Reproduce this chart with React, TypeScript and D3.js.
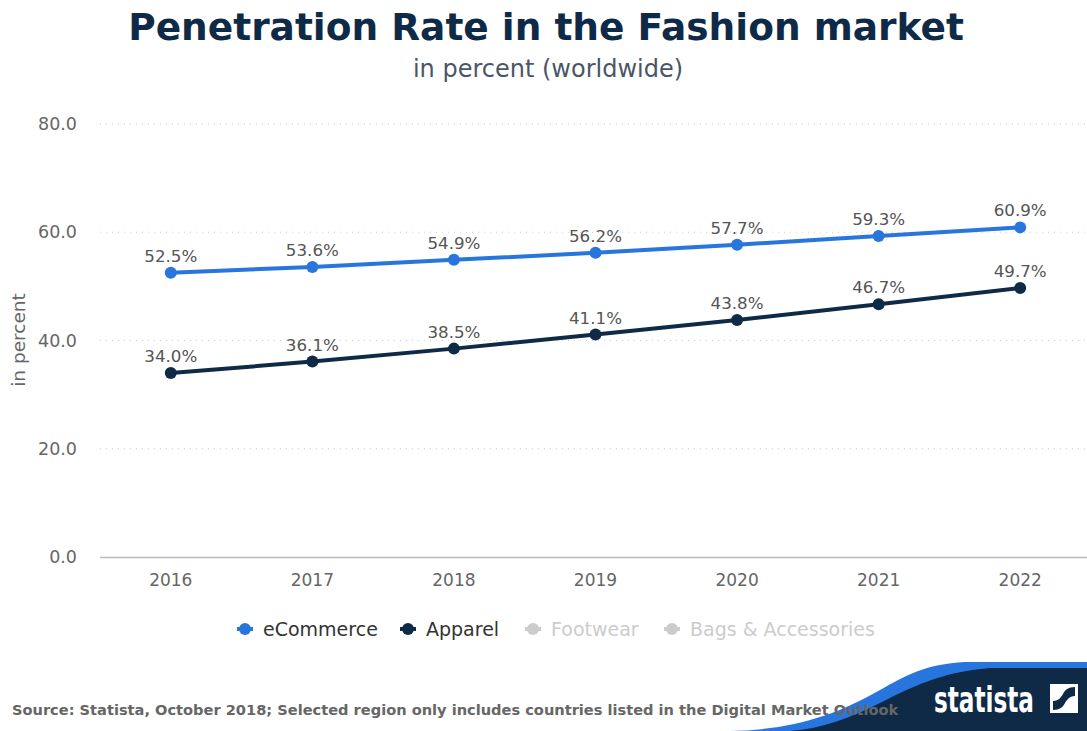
import React from "react";
import * as d3 from "d3";

const years = ["2016", "2017", "2018", "2019", "2020", "2021", "2022"];
const ecommerce = [52.5, 53.6, 54.9, 56.2, 57.7, 59.3, 60.9];
const apparel = [34.0, 36.1, 38.5, 41.1, 43.8, 46.7, 49.7];
const yTicks = [0, 20, 40, 60, 80];
const legendItems = ["eCommerce", "Apparel", "Footwear", "Bags & Accessories"];

const W = 1087;
const H = 731;
const FONT = "'DejaVu Sans', sans-serif";

export default function App() {
  const x = d3.scaleBand<string>().domain(years).range([100, 1091]);
  const y = d3.scaleLinear().domain([0, 80]).range([557, 124]);
  const cx = (d: string) => (x(d) as number) + x.bandwidth() / 2;
  const line = d3
    .line<number>()
    .x((_, i) => cx(years[i]))
    .y((v) => y(v));

  const series = [
    { name: "eCommerce", values: ecommerce, color: "#2876dd" },
    { name: "Apparel", values: apparel, color: "#0f2a47" },
  ];
  const legendColors = ["#2876dd", "#0f2a47", "#cccccc", "#cccccc"];
  const legendTextColors = ["#333333", "#333333", "#cccccc", "#cccccc"];
  const legendX = [245, 408, 533, 672];

  return (
    <svg
      width={W}
      height={H}
      style={{ position: "absolute", left: 0, top: 0, fontFamily: FONT }}
    >
      <rect width={W} height={H} fill="#ffffff" />
      <text
        x={546}
        y={40}
        textAnchor="middle"
        fontSize={37.5}
        fontWeight="bold"
        fill="#0f2a47"
      >
        Penetration Rate in the Fashion market
      </text>
      <text x={548} y={77} textAnchor="middle" fontSize={24} fill="#4a5568">
        in percent (worldwide)
      </text>

      {yTicks.map((t) => (
        <g key={t}>
          {t > 0 && (
            <line
              x1={100}
              x2={1087}
              y1={y(t)}
              y2={y(t)}
              stroke="#cccccc"
              strokeWidth={1}
              strokeDasharray="1,5"
            />
          )}
          <text
            x={77}
            y={y(t) + 6}
            textAnchor="end"
            fontSize={17.5}
            fill="#666666"
          >
            {t.toFixed(1)}
          </text>
        </g>
      ))}
      <line x1={100} x2={1087} y1={557.5} y2={557.5} stroke="#bbbbbb" strokeWidth={1.5} />
      {years.map((yr) => (
        <text
          key={yr}
          x={cx(yr)}
          y={586}
          textAnchor="middle"
          fontSize={17}
          fill="#666666"
        >
          {yr}
        </text>
      ))}
      <text
        transform={`translate(25,340) rotate(-90)`}
        textAnchor="middle"
        fontSize={18.5}
        fill="#666666"
      >
        in percent
      </text>

      {series.map((s) => (
        <g key={s.name}>
          <path
            d={line(s.values) as string}
            fill="none"
            stroke={s.color}
            strokeWidth={4}
            strokeLinejoin="round"
          />
          {s.values.map((v, i) => (
            <g key={i}>
              <circle cx={cx(years[i])} cy={y(v)} r={6} fill={s.color} />
              <text
                x={cx(years[i])}
                y={y(v) - 11}
                textAnchor="middle"
                fontSize={16.7}
                fill="#555555"
              >
                {v.toFixed(1)}%
              </text>
            </g>
          ))}
        </g>
      ))}

      {legendItems.map((name, i) => (
        <g key={name}>
          <line
            x1={legendX[i] - 8}
            x2={legendX[i] + 8}
            y1={629}
            y2={629}
            stroke={legendColors[i]}
            strokeWidth={4}
          />
          <circle cx={legendX[i]} cy={629} r={6} fill={legendColors[i]} />
          <text
            x={legendX[i] + 18}
            y={636}
            fontSize={19}
            fill={legendTextColors[i]}
          >
            {name}
          </text>
        </g>
      ))}

      <path
        d="M 730 731 C 790 730, 835 716, 880 690 C 905 676, 925 664, 965 662 L 1087 662 L 1087 731 Z"
        fill="#2876dd"
      />
      <path
        d="M 790 731 C 820 729, 850 718, 880 703 C 910 688, 940 672, 990 668 L 1087 668 L 1087 731 Z"
        fill="#0f2a47"
      />
      <text
        x={12}
        y={715}
        fontSize={14.6}
        fontWeight="bold"
        fill="#666666"
      >
        Source: Statista, October 2018; Selected region only includes countries listed in the Digital Market Outlook
      </text>
      <text
        x={934}
        y={712}
        fontSize={35}
        fontWeight="bold"
        fill="#ffffff"
        fontFamily="'DejaVu Sans Condensed', 'DejaVu Sans', sans-serif"
        textLength={100}
        lengthAdjust="spacingAndGlyphs"
      >
        statista
      </text>
      <g transform="translate(1050,684)">
        <rect x={0} y={0} width={28} height={29} fill="#ffffff" />
        <path d="M 3 26 L 3 17 C 9 17, 11 13, 13 10 C 15 6, 18 3, 25 3 L 25 12 C 19 12, 17 16, 15 19 C 13 23, 10 26, 3 26 Z" fill="#0f2a47" />
      </g>
    </svg>
  );
}
